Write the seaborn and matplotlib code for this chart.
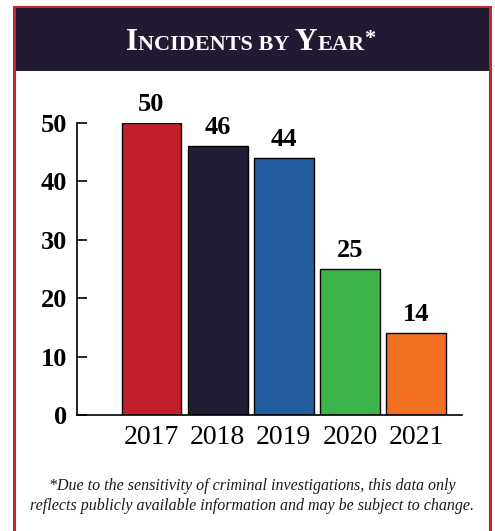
import matplotlib
matplotlib.use('Agg')
import matplotlib.pyplot as plt
import seaborn as sns
import pandas as pd
from matplotlib.patches import Rectangle

# Data
years = ['2017', '2018', '2019', '2020', '2021']
incidents = [50, 46, 44, 25, 14]
bar_colors = ['#c1202a', '#221c35', '#225e9e', '#3bb54a', '#f37022']

df = pd.DataFrame({'year': years, 'incidents': incidents})

sns.set_style('white')
plt.rcParams['font.family'] = ['Liberation Serif', 'DejaVu Serif']
plt.rcParams['text.color'] = 'black'

fig = plt.figure(figsize=(4.95, 5.31), dpi=100)

# Frame and header band
fig.patches.append(Rectangle((14 / 495, -0.05), 476 / 495, 1 - 7 / 531 + 0.05,
                             transform=fig.transFigure, facecolor='white',
                             edgecolor='#c1272d', linewidth=2.2, zorder=-2))
fig.patches.append(Rectangle((15.5 / 495, 1 - 71 / 531), 473 / 495, 63 / 531,
                             transform=fig.transFigure, facecolor='#221a33',
                             edgecolor='none', zorder=-1))

ax = fig.add_axes([77 / 495, 116 / 531, 385 / 495, 292 / 531])
ax.set_zorder(2)
ax.patch.set_alpha(0)

sns.barplot(data=df, x='year', y='incidents', hue='year', palette=bar_colors,
            legend=False, width=0.905, edgecolor='black', linewidth=1,
            saturation=1, ax=ax)

ax.set_xlim(-1.125, 4.69)
ax.set_ylim(0, 50)
ax.set_yticks([0, 10, 20, 30, 40, 50])
ax.set_xlabel('')
ax.set_ylabel('')
for s in ['top', 'right']:
    ax.spines[s].set_visible(False)
for s in ['left', 'bottom']:
    ax.spines[s].set_color('black')
    ax.spines[s].set_linewidth(1.2)
ax.tick_params(axis='y', left=True, direction='in', length=7, width=1.2, pad=7,
               labelsize=19, color='black', labelcolor='black')
ax.tick_params(axis='x', bottom=False, length=0, pad=7, labelsize=20,
               labelcolor='black')
for lab in ax.get_yticklabels():
    lab.set_fontweight('bold')

# Value labels on top of bars
for i, v in enumerate(incidents):
    ax.text(i, v + 1.2, str(v), ha='center', va='bottom', fontsize=19,
            fontweight='bold', color='black', clip_on=False)

# Title in small caps, built from pieces
pieces = [('I', 22.5, 0), ('NCIDENTS BY ', 16, 0), ('Y', 22.5, 0),
          ('EAR', 16, 0), ('*', 16, 6)]
fig.canvas.draw()
renderer = fig.canvas.get_renderer()
texts = []
for s, size, rise in pieces:
    t = fig.text(0, (531 - 50 + rise) / 531, s, color='white', fontsize=size,
                 fontweight='bold', va='baseline', ha='left')
    texts.append(t)
widths = [t.get_window_extent(renderer).width for t in texts]
total = sum(widths)
x0 = 251 - total / 2
for t, w in zip(texts, widths):
    t.set_x(x0 / 495)
    x0 += w

# Footnote
fig.text(252 / 495, 1 - 490 / 531,
         '*Due to the sensitivity of criminal investigations, this data only',
         ha='center', va='baseline', fontsize=11.5, style='italic', color='#1a1a1a')
fig.text(252 / 495, 1 - 510 / 531,
         'reflects publicly available information and may be subject to change.',
         ha='center', va='baseline', fontsize=11.5, style='italic', color='#1a1a1a')

fig.savefig('out.png', dpi=100)
